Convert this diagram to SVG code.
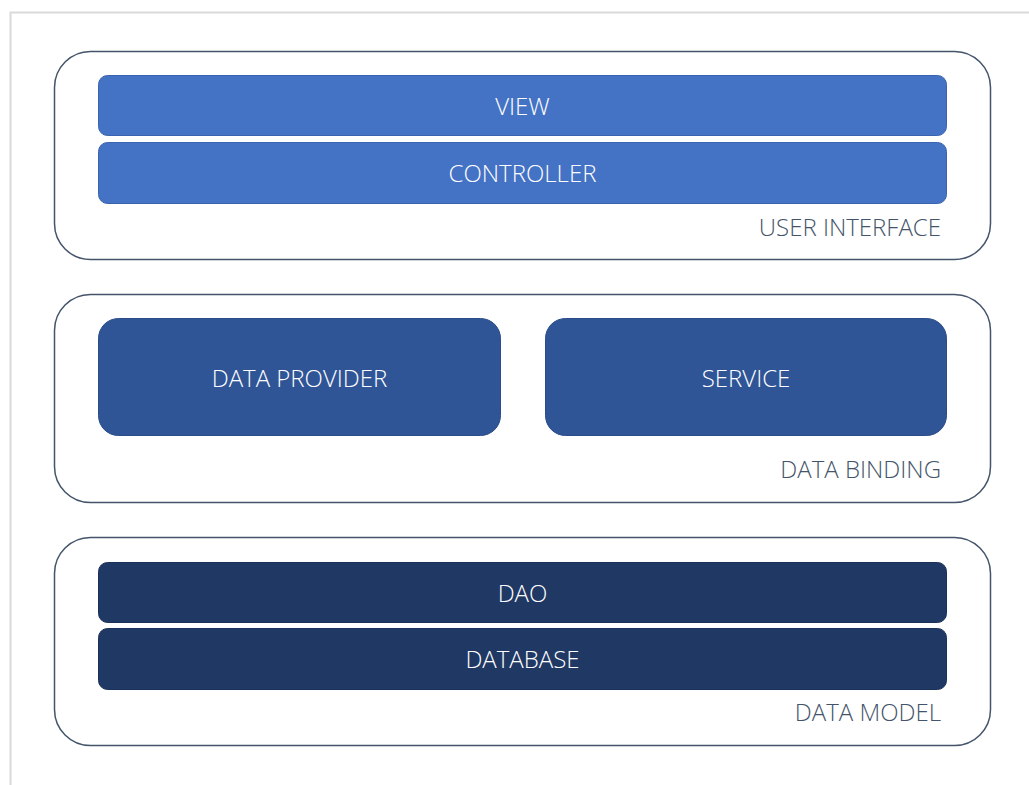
<svg xmlns="http://www.w3.org/2000/svg" width="1029" height="785" viewBox="0 0 1029 785">
  <style>
    .panel { fill: #ffffff; stroke: #44546a; stroke-width: 1.5; }
    .ui { fill: #4472c4; stroke: #3a64ad; stroke-width: 1; }
    .bind { fill: #2f5597; stroke: #2a4c88; stroke-width: 1; }
    .model { fill: #203864; stroke: #1c3159; stroke-width: 1; }
    .lbl { font-family: "Open Sans", "Liberation Sans", sans-serif; font-weight: 300; font-size: 24px; fill: #ffffff; text-anchor: middle; }
    .cap { font-family: "Open Sans", "Liberation Sans", sans-serif; font-weight: 300; font-size: 24px; fill: #44546a; text-anchor: end; }
  </style>
  <rect x="0" y="0" width="1029" height="785" fill="#ffffff"/>
  <!-- page frame -->
  <path d="M10.5 785 V12.5 H1029" fill="none" stroke="#d9d9d9" stroke-width="2"/>

  <!-- layer: user interface -->
  <g id="layer-ui">
    <rect class="panel" x="54.5" y="51.5" width="936" height="208" rx="36"/>
    <text class="cap" x="941" y="236">USER INTERFACE</text>
  </g>
  <g id="view">
    <rect class="ui" x="98.5" y="75.5" width="848" height="60" rx="9"/>
    <text class="lbl" x="522.5" y="115">VIEW</text>
  </g>
  <g id="controller">
    <rect class="ui" x="98.5" y="142.5" width="848" height="61" rx="9"/>
    <text class="lbl" x="522.5" y="182">CONTROLLER</text>
  </g>

  <!-- layer: data binding -->
  <g id="layer-binding">
    <rect class="panel" x="54.5" y="294.5" width="936" height="208" rx="36"/>
    <text class="cap" x="941" y="478">DATA BINDING</text>
  </g>
  <g id="data-provider">
    <rect class="bind" x="98.5" y="318.5" width="402" height="117" rx="20"/>
    <text class="lbl" x="299.5" y="387">DATA PROVIDER</text>
  </g>
  <g id="service">
    <rect class="bind" x="545.5" y="318.5" width="401" height="117" rx="20"/>
    <text class="lbl" x="746" y="387">SERVICE</text>
  </g>

  <!-- layer: data model -->
  <g id="layer-model">
    <rect class="panel" x="54.5" y="537.5" width="936" height="208" rx="36"/>
    <text class="cap" x="941" y="721">DATA MODEL</text>
  </g>
  <g id="dao">
    <rect class="model" x="98.5" y="562.5" width="848" height="60" rx="9"/>
    <text class="lbl" x="522.5" y="602">DAO</text>
  </g>
  <g id="database">
    <rect class="model" x="98.5" y="628.5" width="848" height="61" rx="9"/>
    <text class="lbl" x="522.5" y="668">DATABASE</text>
  </g>

  <g id="connectors"/>
</svg>
